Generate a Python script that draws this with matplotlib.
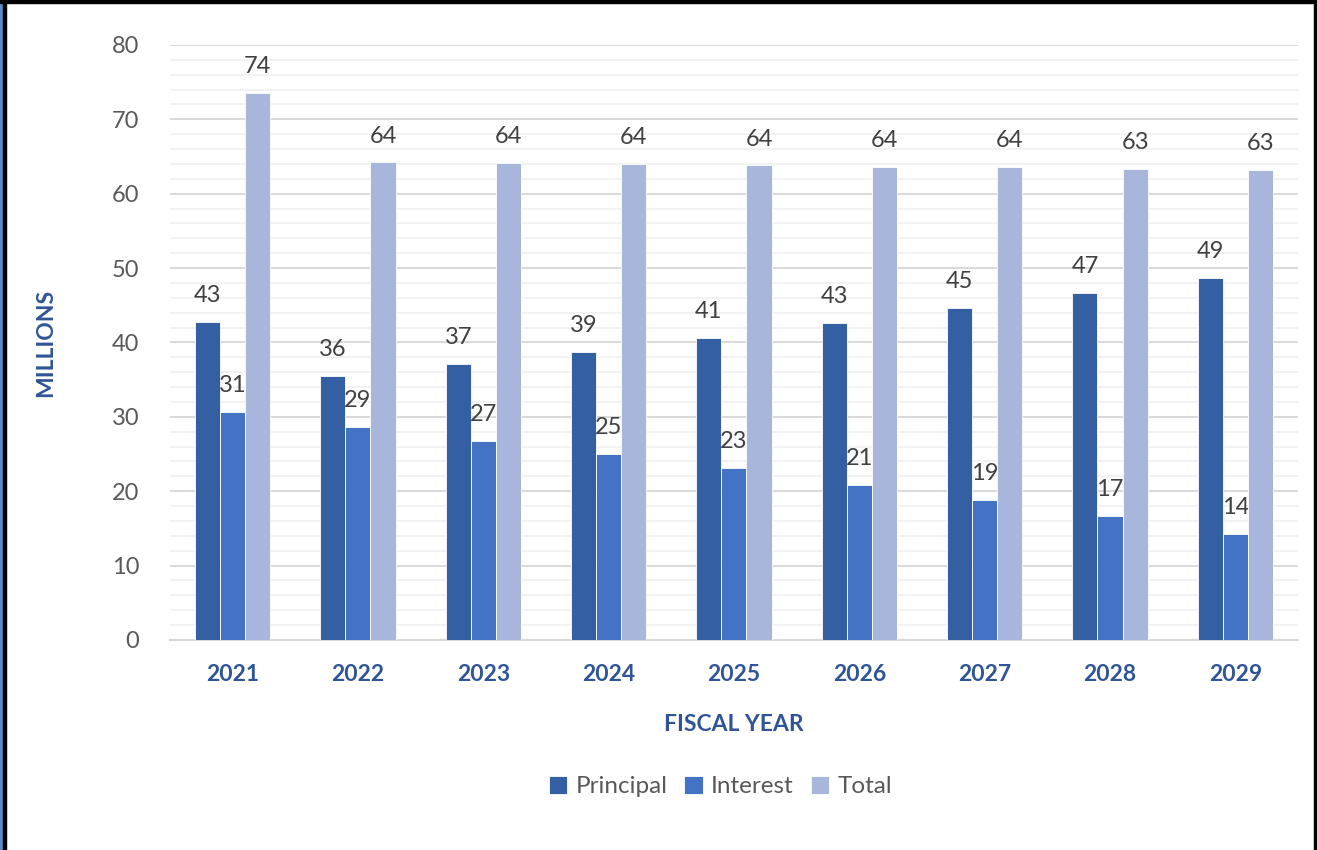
import matplotlib

matplotlib.use("Agg")
import matplotlib.pyplot as plt
import numpy as np
from matplotlib.patches import Rectangle
from matplotlib.ticker import MultipleLocator

# ---------------------------------------------------------------------------
# Data (millions)
# ---------------------------------------------------------------------------
years = ["2021", "2022", "2023", "2024", "2025", "2026", "2027", "2028", "2029"]
principal = [42.8, 35.5, 37.1, 38.7, 40.6, 42.6, 44.6, 46.6, 48.7]
interest = [30.6, 28.6, 26.8, 25.0, 23.1, 20.9, 18.8, 16.7, 14.3]
total = [73.5, 64.2, 64.1, 64.0, 63.8, 63.6, 63.6, 63.3, 63.2]
series_names = ["Principal", "Interest", "Total"]

COLORS = ["#355FA3", "#4472C4", "#A9B6DB"]
TEXT_GRAY = "#595959"
TITLE_BLUE = "#2F5597"

plt.rcParams["font.family"] = ["Lato", "DejaVu Sans"]

fig = plt.figure(figsize=(13.17, 8.5), dpi=100)
ax = fig.add_axes([0.129, 0.2471, 0.8566, 0.7])

x = np.arange(len(years))
width = 0.2
for i, (name, vals) in enumerate(zip(series_names, [principal, interest, total])):
    pos = x + (i - 1) * width
    ax.bar(pos, vals, width=width, color=COLORS[i], edgecolor="white",
           linewidth=0.6, label=name, zorder=3)
    for xp, v in zip(pos, vals):
        ax.annotate(f"{v:.0f}", (xp, v), xytext=(0, 19), textcoords="offset points",
                    ha="center", va="center", fontsize=17, color="#404040")

ax.set_xlim(-0.5, len(years) - 0.5)
ax.set_ylim(0, 80)
ax.yaxis.set_major_locator(MultipleLocator(10))
ax.yaxis.set_minor_locator(MultipleLocator(2))
ax.grid(axis="y", which="major", color="#D9D9D9", linewidth=1.4, zorder=0)
ax.grid(axis="y", which="minor", color="#F2F2F2", linewidth=1.4, zorder=0)
ax.set_axisbelow(True)

for side in ["top", "right", "left"]:
    ax.spines[side].set_visible(False)
ax.spines["bottom"].set_color("#D9D9D9")
ax.spines["bottom"].set_linewidth(1.6)

ax.tick_params(axis="y", which="both", length=0, labelsize=17,
               labelcolor=TEXT_GRAY, pad=22)
ax.tick_params(axis="x", length=0, pad=17)
ax.set_xticks(x)
ax.set_xticklabels(years, fontsize=16.5, fontweight="bold", color=TITLE_BLUE)

ax.set_xlabel("FISCAL YEAR", fontsize=16.5, fontweight="bold", color=TITLE_BLUE,
              labelpad=21)
ax.set_ylabel("MILLIONS", fontsize=16.5, fontweight="bold", color=TITLE_BLUE,
              labelpad=40)

leg = ax.legend(loc="upper center", bbox_to_anchor=(0.488, -0.192), ncol=3,
                frameon=False, fontsize=17.5, handlelength=0.75, handleheight=0.75,
                handletextpad=0.35, columnspacing=0.7)
for t in leg.get_texts():
    t.set_color(TEXT_GRAY)

# outer frame of the original screenshot
fig.patches.append(Rectangle((0, 0), 3.5 / 1317, 1, transform=fig.transFigure,
                             color="#5B8BC9", zorder=10))
fig.patches.append(Rectangle((3.5 / 1317, 0), 2.5 / 1317, 1, transform=fig.transFigure,
                             color="black", zorder=10))
fig.patches.append(Rectangle((0, 1 - 2.5 / 850), 1, 2.5 / 850, transform=fig.transFigure,
                             color="black", zorder=10))
fig.patches.append(Rectangle((1 - 3.5 / 1317, 0), 3.5 / 1317, 1, transform=fig.transFigure,
                             color="black", zorder=10))

fig.savefig("out.png", dpi=100)
